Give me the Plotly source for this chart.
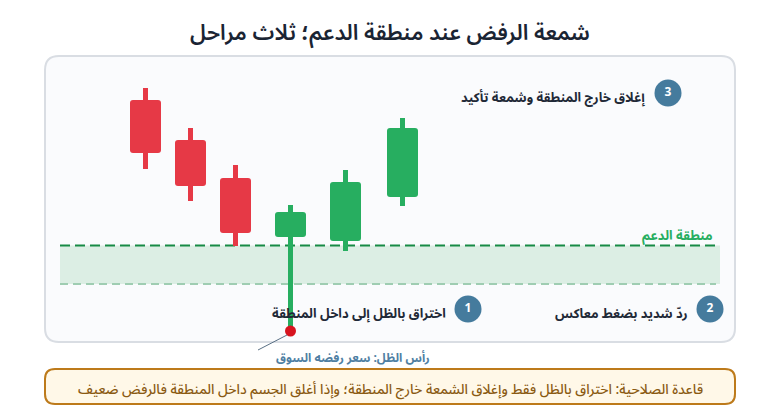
import plotly.graph_objects as go

# --- data (price scale has no visible ticks, one unit = one pixel) ---
candle_x = [145.5, 190.5, 235.5, 290.5, 345.5, 402.5]
candle_open = [316, 276, 238, 179, 175, 219]
candle_close = [263, 230, 183, 204, 234, 288]
candle_high = [328, 288, 251, 211, 246, 298]
candle_low = [247, 215, 170, 85, 165, 210]
candle_colors = ["#e63946", "#e63946", "#e63946", "#27ae60", "#27ae60", "#27ae60"]

zone_top = 170.5
zone_bottom = 132

step_numbers = ["1", "2", "3"]
step_x = [468, 710, 668]
step_y = [107, 107, 323]
step_labels = ["اختراق بالظل إلى داخل المنطقة", "ردّ شديد بضغط معاكس", "إغلاق خارج المنطقة وشمعة تأكيد"]
step_label_x = [448, 690, 648]

title_text = "شمعة الرفض عند منطقة الدعم؛ ثلاث مراحل"
zone_text = "منطقة الدعم"
tip_text = "رأس الظل: سعر رفضه السوق"
rule_text = "قاعدة الصلاحية: اختراق بالظل فقط وإغلاق الشمعة خارج المنطقة؛ وإذا أغلق الجسم داخل المنطقة فالرفض ضعيف"

FONT = "Noto Sans Arabic"


def round_rect(x0, y0, x1, y1, r):
    # y0 is the lower edge, y1 the upper one
    return (f"M{x0 + r},{y0} L{x1 - r},{y0} Q{x1},{y0} {x1},{y0 + r} "
            f"L{x1},{y1 - r} Q{x1},{y1} {x1 - r},{y1} "
            f"L{x0 + r},{y1} Q{x0},{y1} {x0},{y1 - r} L{x0},{y0 + r} Q{x0},{y0} {x0 + r},{y0} Z")


fig = go.Figure()

# wicks
fig.add_trace(go.Bar(
    x=candle_x,
    y=[h - l for h, l in zip(candle_high, candle_low)],
    base=candle_low,
    width=5,
    marker=dict(color=candle_colors, line_width=0),
    hoverinfo="skip",
))
# bodies
fig.add_trace(go.Bar(
    x=candle_x,
    y=[abs(o - c) for o, c in zip(candle_open, candle_close)],
    base=[min(o, c) for o, c in zip(candle_open, candle_close)],
    width=31,
    marker=dict(color=candle_colors, line_width=0, cornerradius=3),
    hoverinfo="skip",
))
# lowest point of the rejection candle
fig.add_trace(go.Scatter(
    x=[candle_x[3]],
    y=[candle_low[3]],
    mode="markers",
    marker=dict(color="#d7141f", size=11),
    hoverinfo="skip",
))
# step badges
fig.add_trace(go.Scatter(
    x=step_x,
    y=step_y,
    mode="markers+text",
    text=step_numbers,
    textposition="middle center",
    textfont=dict(family="Noto Sans", size=12, color="white", weight="bold"),
    marker=dict(color="#457b9d", size=27),
    hoverinfo="skip",
))

shapes = [
    dict(type="path", path=round_rect(45, 416 - 342, 735, 416 - 56, 14),
         fillcolor="#fafbfd", line=dict(color="#d9dde3", width=2), layer="below"),
    dict(type="rect", x0=60, x1=720, y0=zone_bottom, y1=zone_top,
         fillcolor="#dceee4", line_width=0, layer="below"),
    dict(type="line", x0=60, x1=716, y0=zone_top, y1=zone_top,
         line=dict(color="#178a45", width=2, dash="10px,5px"), layer="below"),
    dict(type="line", x0=60, x1=716, y0=zone_bottom, y1=zone_bottom,
         line=dict(color="#9fcdb2", width=2, dash="8px,5px"), layer="below"),
    dict(type="line", x0=287, y0=416 - 335, x1=258, y1=416 - 350,
         line=dict(color="#5b7186", width=1)),
    dict(type="path", path=round_rect(45, 416 - 404, 735, 416 - 369, 10),
         fillcolor="#fff8e8", line=dict(color="#bd7a1a", width=2), layer="below"),
]

annotations = [
    dict(x=390, y=416 - 33, text=title_text, xanchor="center", yanchor="middle", showarrow=False,
         font=dict(family=FONT, size=21.8, color="#1a2433", weight=600)),
    dict(x=715, y=416 - 236, text=zone_text, xanchor="right", yanchor="middle", showarrow=False,
         font=dict(family=FONT, size=13, color="#27ae60", weight="bold")),
    dict(x=353, y=416 - 358, text=tip_text, xanchor="center", yanchor="middle", showarrow=False,
         font=dict(family=FONT, size=12, color="#4f7fa3", weight="bold")),
    dict(x=390, y=416 - 389, text=rule_text, xanchor="center", yanchor="middle", showarrow=False,
         font=dict(family=FONT, size=13.75, color="#8a5a12", weight=500)),
]
for label, lx, ly in zip(step_labels, step_label_x, step_y):
    annotations.append(dict(x=lx, y=ly - 5, text=label, xanchor="right", yanchor="middle", showarrow=False,
                            font=dict(family=FONT, size=13, color="#1f2937", weight="bold")))

fig.update_layout(
    width=780,
    height=416,
    margin=dict(l=0, r=0, t=0, b=0),
    paper_bgcolor="white",
    plot_bgcolor="white",
    barmode="overlay",
    showlegend=False,
    font=dict(family=FONT),
    xaxis=dict(range=[0, 780], visible=False, fixedrange=True),
    yaxis=dict(range=[0, 416], visible=False, fixedrange=True),
    shapes=shapes,
    annotations=annotations,
)

fig.write_html("out.html", config=dict(displayModeBar=False),
               post_script="document.body.style.margin='0'")
